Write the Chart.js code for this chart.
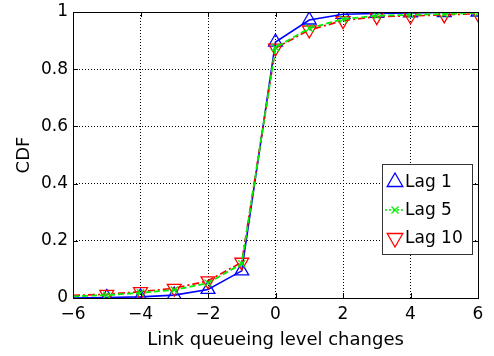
<!DOCTYPE html>
<html><head><meta charset="utf-8">
<script src="https://cdn.jsdelivr.net/npm/chart.js@4/dist/chart.umd.min.js"></script>
<style>html,body{margin:0;padding:0;background:#fff}#wrap{width:494px;height:356px}</style>
</head><body><div id="wrap"><canvas id="c" width="494" height="356"></canvas></div>
<script>
const xValues = [-6, -5, -4, -3, -2, -1, 0, 1, 2, 3, 4, 5, 6];
const lag1 = [0.000, 0.002, 0.004, 0.010, 0.030, 0.095, 0.895, 0.972, 0.992, 0.995, 0.997, 0.998, 1.000];
const lag5 = [0.006, 0.010, 0.018, 0.028, 0.052, 0.120, 0.876, 0.943, 0.975, 0.987, 0.990, 0.993, 0.997];
const lag10 = [0.009, 0.013, 0.022, 0.034, 0.060, 0.125, 0.874, 0.937, 0.970, 0.984, 0.986, 0.990, 0.994];
const seriesLabels = ['Lag 1', 'Lag 5', 'Lag 10'];
const xTicks = [-6, -4, -2, 0, 2, 4, 6];
const yTicks = [0, 0.2, 0.4, 0.6, 0.8, 1];

const FONT = '"DejaVu Sans", Verdana, sans-serif';
const pts = arr => arr.map((v, i) => ({x: xValues[i], y: v}));
const radii = r => xValues.map((x, i) => i === 0 ? 0 : r);

const datasets = [
  {label: seriesLabels[0], data: pts(lag1), borderColor: '#0000ff', backgroundColor: 'rgba(0,0,0,0)',
   borderWidth: 1.6, pointStyle: 'triangle', pointRadius: radii(8), pointBorderWidth: 1.3, pointBorderColor: '#0000ff', pointRotation: 0, order: 3},
  {label: seriesLabels[1], data: pts(lag5), borderColor: '#00ee00', backgroundColor: 'rgba(0,0,0,0)',
   borderWidth: 1.8, borderDash: [6, 3], pointStyle: 'crossRot', pointRadius: radii(5), pointBorderWidth: 1.3, pointBorderColor: '#00ee00', order: 1},
  {label: seriesLabels[2], data: pts(lag10), borderColor: '#ff0000', backgroundColor: 'rgba(0,0,0,0)',
   borderWidth: 1.7, borderDash: [7, 3, 2, 3], pointStyle: 'triangle', pointRadius: radii(8), pointBorderWidth: 1.3, pointBorderColor: '#ff0000', pointRotation: 180, order: 2}
];

const boxPlugin = {
  id: 'box',
  afterDraw(chart) {
    const {ctx, chartArea: a, scales: {x, y}} = chart;
    ctx.save();
    ctx.strokeStyle = '#000'; ctx.lineWidth = 1;
    ctx.strokeRect(Math.round(a.left) + 0.5, Math.round(a.top) + 0.5, Math.round(a.right - a.left), Math.round(a.bottom - a.top));
    ctx.beginPath();
    const L = 5;
    xTicks.forEach(t => { const px = Math.round(x.getPixelForValue(t)) + 0.5;
      ctx.moveTo(px, a.bottom); ctx.lineTo(px, a.bottom - L); ctx.moveTo(px, a.top); ctx.lineTo(px, a.top + L); });
    yTicks.forEach(t => { const py = Math.round(y.getPixelForValue(t)) + 0.5;
      ctx.moveTo(a.left, py); ctx.lineTo(a.left + L, py); ctx.moveTo(a.right, py); ctx.lineTo(a.right - L, py); });
    ctx.stroke();
    // legend
    const bx = 382, by = 164, bw = 90, bh = 90;
    ctx.fillStyle = '#fff'; ctx.fillRect(bx, by, bw, bh);
    ctx.strokeStyle = '#333'; ctx.strokeRect(bx + 0.5, by + 0.5, bw, bh);
    const rows = [182, 210, 238];
    ctx.font = '17px ' + FONT; ctx.textBaseline = 'middle'; ctx.textAlign = 'left';
    chart.data.datasets.forEach((ds, i) => {
      const cx = 395, cy = rows[i];
      ctx.strokeStyle = ds.borderColor; ctx.fillStyle = 'rgba(0,0,0,0)'; ctx.lineWidth = 1.3;
      Chart.helpers.drawPoint(ctx, {pointStyle: ds.pointStyle, rotation: ds.pointRotation || 0, radius: i === 1 ? 5 : 9, borderWidth: 1.3}, cx, cy);
      if (i === 1) { ctx.setLineDash([2, 2]); ctx.beginPath(); ctx.moveTo(cx - 10, cy); ctx.lineTo(cx + 10, cy); ctx.stroke(); ctx.setLineDash([]); }
      ctx.fillStyle = '#000'; ctx.fillText(ds.label, 405, cy + 1);
    });
    ctx.restore();
  }
};

new Chart(document.getElementById('c'), {
  type: 'line',
  data: {datasets},
  options: {
    responsive: false, animation: false, devicePixelRatio: 1,
    layout: {padding: {top: 12, right: 16, left: 0, bottom: 0}},
    plugins: {legend: {display: false}, tooltip: {enabled: false}},
    scales: {
      x: {type: 'linear', min: -6, max: 6,
        afterBuildTicks: s => { s.ticks = xTicks.map(v => ({value: v})); },
        afterFit: s => { s.height = 58; s.paddingLeft = 0; s.paddingRight = 0; },
        grid: {color: '#000', lineWidth: 1, drawTicks: false},
        border: {display: false, dash: [1, 2]},
        ticks: {padding: 6, color: '#000', font: {family: FONT, size: 17, lineHeight: 1.2}, maxRotation: 0,
          callback: v => (v < 0 ? '\u2212' + Math.abs(v) : '' + v)},
        title: {display: true, text: 'Link queueing level changes', color: '#000', font: {family: FONT, size: 18, lineHeight: 1.2}, padding: {top: 2, bottom: 5}}
      },
      y: {type: 'linear', min: 0, max: 1,
        afterBuildTicks: s => { s.ticks = yTicks.map(v => ({value: v})); },
        afterFit: s => { s.width = 73; s.paddingTop = 0; s.paddingBottom = 0; },
        grid: {color: '#000', lineWidth: 1, drawTicks: false},
        border: {display: false, dash: [1, 2]},
        ticks: {padding: 5, color: '#000', font: {family: FONT, size: 17}, callback: v => '' + +v.toFixed(1)},
        title: {display: true, text: 'CDF', color: '#000', font: {family: FONT, size: 18}, padding: {top: 14, bottom: 0}}
      }
    }
  },
  plugins: [boxPlugin]
});
</script></body></html>
